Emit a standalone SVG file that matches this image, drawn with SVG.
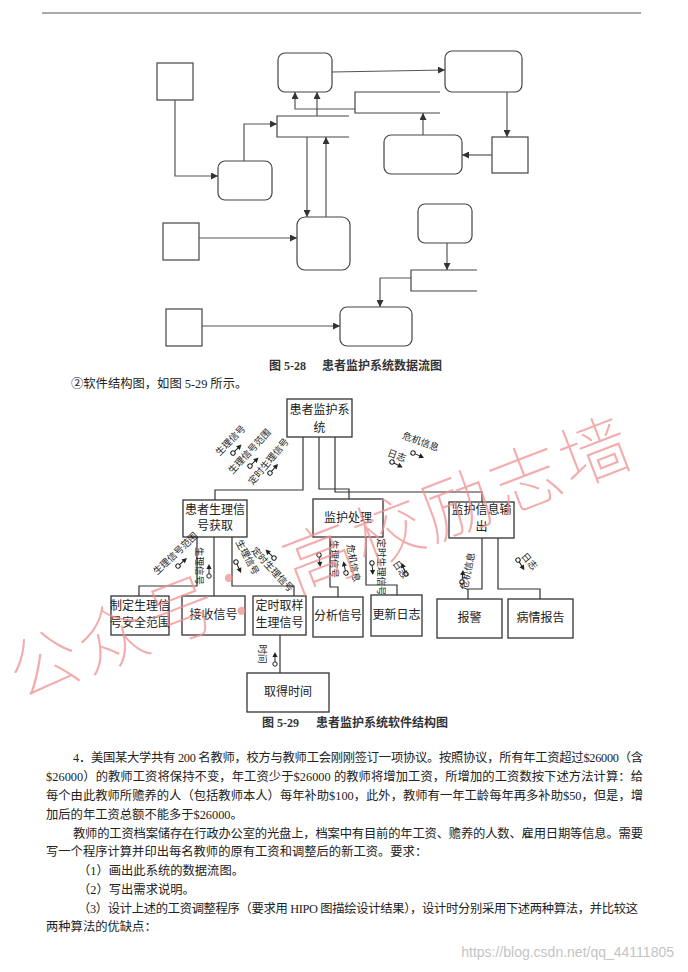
<svg xmlns="http://www.w3.org/2000/svg" xmlns:xlink="http://www.w3.org/1999/xlink" width="688" height="972" viewBox="0 0 688 972">
<style>
.bx{fill:none;stroke:#444;stroke-width:1.2}
.sb{fill:none;stroke:#333;stroke-width:1.3}
.ln{fill:none;stroke:#555;stroke-width:1.2}
.sc{fill:none;stroke:#333;stroke-width:1.2}
.bt{font-family:"Noto Sans CJK SC",sans-serif;font-size:12px;fill:#222;text-anchor:middle}
.lb{font-family:"Noto Sans CJK SC",sans-serif;font-size:9.5px;fill:#222;text-anchor:middle;dominant-baseline:central}
.tx{font-family:"Liberation Serif","Noto Sans CJK SC",serif;font-size:12.3px;fill:#222}
.cap{font-family:"Liberation Serif","Noto Sans CJK SC",serif;font-size:12px;font-weight:bold;fill:#333}
</style>
<defs>
<marker id="ah" viewBox="0 0 10 10" refX="10" refY="5" markerWidth="7" markerHeight="7" markerUnits="userSpaceOnUse" orient="auto">
<path d="M0,0 L10,5 L0,10 Z" fill="#333"/>
</marker>
<g id="cp"><circle cx="0" cy="0" r="2.2" fill="none" stroke="#222" stroke-width="1"/><line x1="2.2" y1="0" x2="8" y2="0" stroke="#222" stroke-width="1"/><path d="M12,0 L7,-2.6 L7,2.6 Z" fill="#222"/></g>
</defs>
<rect width="688" height="972" fill="#fff"/>
<line x1="42" y1="13" x2="641" y2="13" stroke="#555" stroke-width="1.2"/>

<!-- DFD nodes -->
<g id="dfd-nodes">
<rect id="n-a" class="bx" x="157" y="63" width="36" height="37"/>
<rect id="n-f" class="bx" x="492" y="137" width="36" height="36"/>
<rect id="n-h" class="bx" x="163" y="223" width="36" height="37"/>
<rect id="n-k" class="bx" x="166" y="309" width="36" height="37"/>
<rect id="n-b" class="bx" x="278" y="53" width="54" height="39" rx="7"/>
<rect id="n-c" class="bx" x="445" y="51" width="77" height="41" rx="7"/>
<rect id="n-d" class="bx" x="218" y="161" width="54" height="39" rx="7"/>
<rect id="n-e" class="bx" x="384" y="135" width="78" height="39" rx="7"/>
<rect id="n-g" class="bx" x="297" y="217" width="53" height="53" rx="8"/>
<rect id="n-i" class="bx" x="418" y="204" width="54" height="39" rx="7"/>
<rect id="n-j" class="bx" x="340" y="307" width="72" height="39" rx="7"/>
<g id="n-s1"><path class="bx" d="M440,92 H355 V113 H440"/></g>
<g id="n-s2"><path class="bx" d="M349,116 H277 V137 H349"/></g>
<g id="n-s3"><path class="bx" d="M477,270 H411 V291 H477"/></g>
</g>
<g id="dfd-connectors">
<line class="ln" x1="332" y1="72" x2="445" y2="70" marker-end="url(#ah)"/>
<line class="ln" x1="507" y1="92" x2="507" y2="137" marker-end="url(#ah)"/>
<line class="ln" x1="492" y1="155" x2="462" y2="155" marker-end="url(#ah)"/>
<line class="ln" x1="423" y1="135" x2="423" y2="113" marker-end="url(#ah)"/>
<polyline class="ln" points="355,109 295,109 295,92" marker-end="url(#ah)"/>
<line class="ln" x1="317" y1="116" x2="317" y2="92" marker-end="url(#ah)"/>
<polyline class="ln" points="175,100 175,176 218,176" marker-end="url(#ah)"/>
<polyline class="ln" points="244,161 244,124 277,124" marker-end="url(#ah)"/>
<line class="ln" x1="307" y1="137" x2="307" y2="217" marker-end="url(#ah)"/>
<line class="ln" x1="326" y1="217" x2="326" y2="137" marker-end="url(#ah)"/>
<line class="ln" x1="199" y1="238" x2="297" y2="238" marker-end="url(#ah)"/>
<line class="ln" x1="447" y1="243" x2="447" y2="270" marker-end="url(#ah)"/>
<polyline class="ln" points="411,278 380,278 380,307" marker-end="url(#ah)"/>
<line class="ln" x1="202" y1="326" x2="340" y2="326" marker-end="url(#ah)"/>
</g>
<text class="cap" x="269" y="370">图 5-28</text>
<text class="cap" x="322" y="370">患者监护系统数据流图</text>
<text class="tx" x="71" y="388">②软件结构图，如图 5-29 所示。</text>

<!-- Structure chart -->
<g id="sc-connectors">
<polyline class="sc" points="303,437 303,490 215,490 215,500"/>
<polyline class="sc" points="319,437 319,489 349,489 349,499"/>
<polyline class="sc" points="335,437 335,492 482,492 482,502"/>
<polyline class="sc" points="197,537 197,586 139,586 139,596"/>
<line class="sc" x1="214" y1="537" x2="214" y2="596"/>
<polyline class="sc" points="232,537 232,586 294,586 294,596"/>
<line class="sc" x1="280" y1="635" x2="280" y2="673"/>
<polyline class="sc" points="330,537 330,587 338,587 338,597"/>
<polyline class="sc" points="366,537 366,585 397,585 397,595"/>
<polyline class="sc" points="482,538 482,589 468,589 468,599"/>
<polyline class="sc" points="498,538 498,589 540,589 540,599"/>
</g>
<g id="sc-root"><rect class="sb" x="287" y="399" width="65" height="38"/><text class="bt" x="319.5" y="414">患者监护系</text><text class="bt" x="319.5" y="432">统</text></g>
<g id="sc-l1"><rect class="sb" x="183" y="500" width="64" height="37"/><text class="bt" x="215" y="514">患者生理信</text><text class="bt" x="215" y="530">号获取</text></g>
<g id="sc-m"><rect class="sb" x="313" y="499" width="70" height="38"/><text class="bt" x="348" y="522">监护处理</text></g>
<g id="sc-n"><rect class="sb" x="449" y="502" width="65" height="36"/><text class="bt" x="481.5" y="514">监护信息输</text><text class="bt" x="481.5" y="531">出</text></g>
<g id="sc-a1"><rect class="sb" x="111" y="596" width="58" height="39"/><text class="bt" x="140" y="610">制定生理信</text><text class="bt" x="140" y="627">号安全范围</text></g>
<g id="sc-a2"><rect class="sb" x="182" y="596" width="63" height="39"/><text class="bt" x="213.5" y="619">接收信号</text></g>
<g id="sc-a3"><rect class="sb" x="253" y="596" width="53" height="39"/><text class="bt" x="279.5" y="610">定时取样</text><text class="bt" x="279.5" y="627">生理信号</text></g>
<g id="sc-a4"><rect class="sb" x="247" y="673" width="82" height="39"/><text class="bt" x="288" y="696">取得时间</text></g>
<g id="sc-b1"><rect class="sb" x="313" y="597" width="50" height="40"/><text class="bt" x="338" y="620">分析信号</text></g>
<g id="sc-b2"><rect class="sb" x="371" y="595" width="51" height="41"/><text class="bt" x="396.5" y="619">更新日志</text></g>
<g id="sc-c1"><rect class="sb" x="437" y="599" width="65" height="39"/><text class="bt" x="469.5" y="622">报警</text></g>
<g id="sc-c2"><rect class="sb" x="508" y="599" width="65" height="39"/><text class="bt" x="540.5" y="622">病情报告</text></g>

<g id="sc-labels">
<text class="lb" transform="translate(230,440) rotate(-45)">生理信号</text>
<text class="lb" transform="translate(249,451) rotate(-47)">生理信号范围</text>
<text class="lb" transform="translate(268,461) rotate(-50)">定时生理信号</text>
<text class="lb" transform="translate(421,441) rotate(20)">危机信息</text>
<text class="lb" transform="translate(397,455) rotate(20)">日志</text>
<text class="lb" transform="translate(175,553) rotate(-43)">生理信号范围</text>
<text class="lb" transform="translate(200,566) rotate(90)">生理信号</text>
<text class="lb" transform="translate(248,557) rotate(62)">生理信号</text>
<text class="lb" transform="translate(273,569) rotate(47)">定时生理信号</text>
<text class="lb" transform="translate(263,654) rotate(90)">时间</text>
<text class="lb" transform="translate(335,559) rotate(90)">生理信号</text>
<text class="lb" transform="translate(354,563) rotate(80)">危机信息</text>
<text class="lb" transform="translate(382,567) rotate(90)">定时生理信号</text>
<text class="lb" transform="translate(401,569) rotate(55)">日志</text>
<text class="lb" transform="translate(467,571) rotate(-78)">危机信息</text>
<text class="lb" transform="translate(530,561) rotate(50)">日志</text>
<use xlink:href="#cp" transform="translate(233,453) rotate(-45)"/>
<use xlink:href="#cp" transform="translate(250,466) rotate(-45)"/>
<use xlink:href="#cp" transform="translate(270,473) rotate(-48)"/>
<use xlink:href="#cp" transform="translate(413,453) rotate(23)"/>
<use xlink:href="#cp" transform="translate(392,462) rotate(27)"/>
<use xlink:href="#cp" transform="translate(178,566) rotate(-42)"/>
<use xlink:href="#cp" transform="translate(209,576) rotate(-90)"/>
<use xlink:href="#cp" transform="translate(236,562) rotate(65)"/>
<use xlink:href="#cp" transform="translate(274,558) rotate(-135)"/>
<use xlink:href="#cp" transform="translate(275,664) rotate(-90)"/>
<use xlink:href="#cp" transform="translate(319,555) rotate(84)"/>
<use xlink:href="#cp" transform="translate(346,573) rotate(-103)"/>
<use xlink:href="#cp" transform="translate(372,563) rotate(86)"/>
<use xlink:href="#cp" transform="translate(406,574) rotate(-112)"/>
<use xlink:href="#cp" transform="translate(462,582) rotate(-85)"/>
<use xlink:href="#cp" transform="translate(518,560) rotate(58)"/>
</g>
<text class="cap" x="262" y="727">图 5-29</text>
<text class="cap" x="316" y="727">患者监护系统软件结构图</text>

<!-- Body text -->
<g id="body">
<text class="tx" x="73" y="762" textLength="570" lengthAdjust="spacing">4．美国某大学共有 200 名教师，校方与教师工会刚刚签订一项协议。按照协议，所有年工资超过$26000（含</text>
<text class="tx" x="46" y="781" textLength="597" lengthAdjust="spacing">$26000）的教师工资将保持不变，年工资少于$26000 的教师将增加工资，所增加的工资数按下述方法计算：给</text>
<text class="tx" x="46" y="800" textLength="597" lengthAdjust="spacing">每个由此教师所赡养的人（包括教师本人）每年补助$100，此外，教师有一年工龄每年再多补助$50，但是，增</text>
<text class="tx" x="46" y="819">加后的年工资总额不能多于$26000。</text>
<text class="tx" x="73" y="838" textLength="570" lengthAdjust="spacing">教师的工资档案储存在行政办公室的光盘上，档案中有目前的年工资、赡养的人数、雇用日期等信息。需要</text>
<text class="tx" x="46" y="856">写一个程序计算并印出每名教师的原有工资和调整后的新工资。要求：</text>
<text class="tx" x="78" y="875">（1）画出此系统的数据流图。</text>
<text class="tx" x="78" y="894">（2）写出需求说明。</text>
<text class="tx" x="78" y="913" textLength="560" lengthAdjust="spacing">（3）设计上述的工资调整程序（要求用 HIPO 图描绘设计结果），设计时分别采用下述两种算法，并比较这</text>
<text class="tx" x="46" y="931">两种算法的优缺点：</text>
</g>

<!-- Watermarks -->
<text x="20" y="700" transform="rotate(-21 20 700)" font-family="Noto Sans CJK SC, sans-serif" font-size="70" font-weight="100" fill="#ef8f8f" fill-opacity="0.75" textLength="660" lengthAdjust="spacing">公众号：高校励志墙</text>
<text x="674" y="957" text-anchor="end" font-family="Liberation Sans, sans-serif" font-size="14" fill="#c4c4c4">https://blog.csdn.net/qq_44111805</text>
</svg>
